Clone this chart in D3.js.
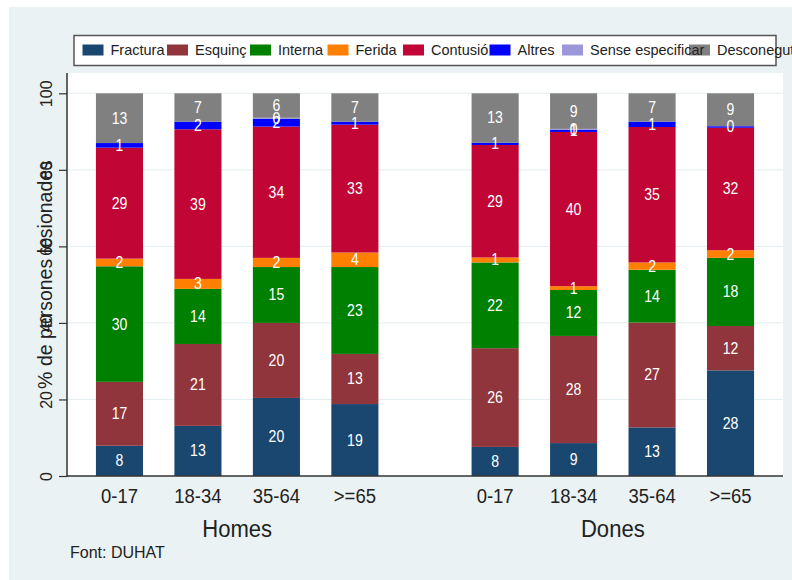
<!DOCTYPE html>
<html>
<head>
<meta charset="utf-8">
<script src="https://cdn.jsdelivr.net/npm/d3@7"></script>
<style>
  body { margin: 0; background: #ffffff; }
  svg { display: block; font-family: "Liberation Sans", Arial, sans-serif; }
</style>
</head>
<body>
<svg id="chart" width="792" height="580"></svg>
<script>
// categories
let groups = ['Homes', 'Dones']
let ages = ['0-17', '18-34', '35-64', '>=65']
let types = ['Fractura', 'Esquinç', 'Interna', 'Ferida', 'Contusió', 'Altres', 'Sense especificar', 'Desconegut']
let typeColors = ['#1a476f', '#90353b', '#008000', '#ff7f00', '#c10534', '#0000ff', '#9b97d8', '#808080']

// % per bar: Homes 0-17, 18-34, 35-64, >=65, then Dones 0-17 ... >=65
let fractura   = [7.9, 13.1, 20.4, 18.8, 7.6, 8.6, 12.7, 27.6]
let esquinc    = [16.7, 21.4, 19.6, 13.1, 25.8, 28.0, 27.4, 11.6]
let interna    = [30.2, 14.4, 14.6, 22.7, 22.4, 12.0, 13.8, 17.8]
let ferida     = [2.0, 2.6, 2.4, 3.8, 1.3, 1.0, 1.9, 2.0]
let contusio   = [29.0, 39.1, 34.3, 33.4, 29.4, 40.3, 35.4, 32.0]
let altres     = [1.2, 2.0, 2.0, 0.8, 0.6, 0.6, 1.4, 0.4]
let sense      = [0, 0, 0.3, 0, 0, 0.2, 0, 0]
let desconegut = [13.0, 7.4, 6.4, 7.4, 12.9, 9.3, 7.4, 8.6]

let yTicks = [0, 20, 40, 60, 80, 100]
let yTitle = '% de persones lesionades'
let note = 'Font: DUHAT'

let series = [fractura, esquinc, interna, ferida, contusio, altres, sense, desconegut]

// table for the stack
let rows = []
groups.forEach((g, gi) => {
    ages.forEach((a, ai) => {
        let row = {group: g, age: a}
        types.forEach((t, ti) => { row[t] = series[ti][gi * ages.length + ai] })
        rows.push(row)
    })
})

let svg = d3.select('#chart')

// panel background
svg.append('rect').attr('x', 9).attr('y', 7).attr('width', 783).attr('height', 573).attr('fill', '#eaf2f3')

let plot = {left: 67, right: 783, top: 73, bottom: 476}
svg.append('rect')
    .attr('x', plot.left).attr('y', plot.top)
    .attr('width', plot.right - plot.left).attr('height', plot.bottom - plot.top)
    .attr('fill', '#ffffff')

let y = d3.scaleLinear().domain([0, 100]).range([plot.bottom, 93.3])
let xGroup = d3.scaleBand().domain(groups).range([plot.left, plot.right])
    .paddingInner(0.248).paddingOuter(0.077)
let xAge = d3.scaleBand().domain(ages).range([0, xGroup.bandwidth()]).paddingInner(0.4).paddingOuter(0)
let color = d3.scaleOrdinal().domain(types).range(typeColors)

// grid
svg.append('g').selectAll('line')
    .data(yTicks.filter(t => t > 0))
    .enter().append('line')
    .attr('x1', plot.left).attr('x2', plot.right)
    .attr('y1', d => y(d)).attr('y2', d => y(d))
    .attr('stroke', '#e3edf0').attr('stroke-width', 1)

let stack = d3.stack().keys(types)
let layers = stack(rows)

let barX = (d) => xGroup(d.data.group) + xAge(d.data.age)

let layer = svg.append('g').selectAll('g')
    .data(layers)
    .enter().append('g')
    .attr('fill', d => color(d.key))

layer.selectAll('rect')
    .data(d => d.filter(s => s[1] - s[0] > 0))
    .enter().append('rect')
    .attr('x', d => barX(d))
    .attr('width', xAge.bandwidth())
    .attr('y', d => y(d[1]))
    .attr('height', d => y(d[0]) - y(d[1]))

// value labels
let labels = svg.append('g')
layers.forEach(l => {
    l.forEach(s => {
        let v = s[1] - s[0]
        if (v <= 0) return
        let cx = barX(s) + xAge.bandwidth() / 2
        let cy = y((s[0] + s[1]) / 2)
        labels.append('text')
            .attr('transform', 'translate(' + cx + ',' + (cy + 5.5) + ') scale(0.88,1)')
            .attr('text-anchor', 'middle')
            .attr('fill', '#ffffff')
            .style('font-size', '16px')
            .text(Math.round(v))
    })
})

// y axis
let yAxis = d3.axisLeft(y).tickValues(yTicks).tickSize(8).tickPadding(0)
let gy = svg.append('g').attr('transform', 'translate(' + plot.left + ',0)').call(yAxis)
gy.select('.domain').remove()
gy.selectAll('.tick line').attr('stroke', '#333333').attr('stroke-width', 1.2)
gy.selectAll('.tick text')
    .attr('x', null).attr('dy', null)
    .attr('transform', 'translate(-15,0) rotate(-90)')
    .attr('text-anchor', 'middle')
    .attr('fill', '#222222')
    .style('font-size', '16px')
    .style('font-family', '"Liberation Sans", Arial, sans-serif')

svg.append('line')
    .attr('x1', plot.left).attr('x2', plot.left)
    .attr('y1', plot.top).attr('y2', plot.bottom + 1)
    .attr('stroke', '#333333').attr('stroke-width', 1.5)
svg.append('line')
    .attr('x1', plot.left).attr('x2', plot.right)
    .attr('y1', plot.bottom).attr('y2', plot.bottom)
    .attr('stroke', '#333333').attr('stroke-width', 1.5)

svg.append('text')
    .attr('transform', 'translate(52,' + ((plot.top + plot.bottom) / 2) + ') rotate(-90)')
    .attr('text-anchor', 'middle')
    .attr('fill', '#222222')
    .style('font-size', '19.5px')
    .text(yTitle)

// x labels
groups.forEach(g => {
    ages.forEach(a => {
        let cx = xGroup(g) + xAge(a) + xAge.bandwidth() / 2
        svg.append('text')
            .attr('transform', 'translate(' + cx + ',503) scale(0.88,1)')
            .attr('text-anchor', 'middle')
            .attr('fill', '#222222')
            .style('font-size', '21px')
            .text(a)
    })
    svg.append('text')
        .attr('transform', 'translate(' + (xGroup(g) + xGroup.bandwidth() / 2) + ',537) scale(0.92,1)')
        .attr('text-anchor', 'middle')
        .attr('fill', '#222222')
        .style('font-size', '24px')
        .text(g)
})

svg.append('text')
    .attr('x', 70).attr('y', 558)
    .attr('fill', '#222222')
    .style('font-size', '16px')
    .text(note)

// legend
let legendX = [82.5, 167, 250, 327.5, 403, 489.5, 562, 689]
svg.append('rect')
    .attr('x', 74).attr('y', 35.5).attr('width', 702).attr('height', 30)
    .attr('fill', '#ffffff').attr('stroke', '#555555').attr('stroke-width', 1.5)
svg.append('g').selectAll('rect')
    .data(types)
    .enter().append('rect')
    .attr('x', (d, i) => legendX[i]).attr('y', 44.5)
    .attr('width', 21).attr('height', 11)
    .attr('fill', d => color(d))
svg.append('g').selectAll('text')
    .data(types)
    .enter().append('text')
    .attr('x', (d, i) => legendX[i] + 28).attr('y', 55)
    .attr('fill', '#222222')
    .style('font-size', '14.5px')
    .text(d => d)
</script>
</body>
</html>
